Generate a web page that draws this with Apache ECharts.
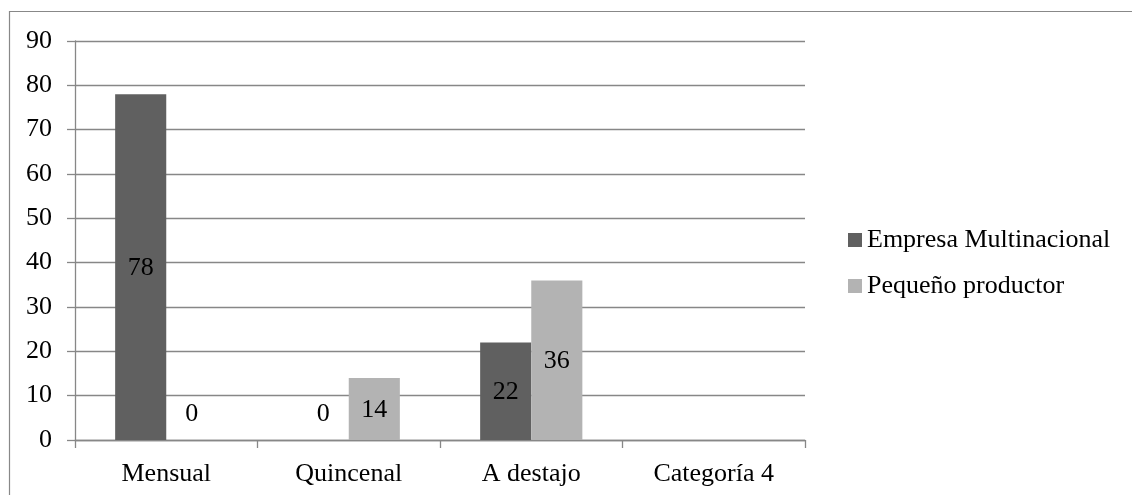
<!DOCTYPE html>
<html>
<head>
<meta charset="utf-8">
<script src="https://cdn.jsdelivr.net/npm/echarts@6/dist/echarts.min.js"></script>
<style>
  html, body { margin: 0; padding: 0; background: #fff; }
  #chart { width: 1132px; height: 495px; }
</style>
</head>
<body>
<div id="chart"></div>
<script>
// Payment frequency by producer type
const categories = ['Mensual', 'Quincenal', 'A destajo', 'Categoría 4'];
const seriesNames = ['Empresa Multinacional', 'Pequeño productor'];
const multinacional = [78, 0, 22, null];
const pequeno = [0, 14, 36, null];
const yTicks = { min: 0, max: 90, interval: 10 };

const FONT = '"Liberation Serif", "Times New Roman", serif';
const FS = 26;
const GRID_COLOR = '#878787';
const colors = ['#606060', '#b3b3b3'];

// zero-height bars carry their label a little above the baseline
function toItems(values) {
  return values.map(v => {
    if (v === 0) {
      return { value: v, label: { offset: [0, -26] } };
    }
    return v;
  });
}

function barSeries(name, values, color) {
  return {
    name: name,
    type: 'bar',
    data: toItems(values),
    barGap: '0%',
    barCategoryGap: '44%',
    itemStyle: { color: color },
    label: {
      show: true,
      position: 'inside',
      offset: [0, 1],
      color: '#000',
      fontFamily: FONT,
      fontSize: FS,
      formatter: p => (p.value == null ? '' : String(p.value))
    }
  };
}

const chart = echarts.init(document.getElementById('chart'), null, { renderer: 'canvas' });
chart.setOption({
  animation: false,
  backgroundColor: '#fff',
  textStyle: { fontFamily: FONT },
  graphic: [{
    type: 'rect',
    shape: { x: 9.5, y: 11.5, width: 1400, height: 800 },
    style: { fill: 'none', stroke: '#888', lineWidth: 1.2 },
    silent: true,
    z: -1
  }],
  grid: { left: 75, right: 327, top: 41, bottom: 55, containLabel: false },
  legend: {
    orient: 'vertical',
    left: 843,
    top: 220,
    itemWidth: 14,
    itemHeight: 14,
    itemGap: 16,
    icon: 'rect',
    data: seriesNames,
    textStyle: { fontFamily: FONT, fontSize: FS, color: '#000', lineHeight: 30 }
  },
  xAxis: {
    type: 'category',
    data: categories,
    axisLine: { lineStyle: { color: GRID_COLOR, width: 1.3 } },
    axisTick: { show: true, length: 8, alignWithLabel: false, lineStyle: { color: GRID_COLOR, width: 1.3 } },
    axisLabel: { color: '#000', fontFamily: FONT, fontSize: FS, margin: 21 },
    splitLine: { show: false }
  },
  yAxis: {
    type: 'value',
    min: yTicks.min,
    max: yTicks.max,
    interval: yTicks.interval,
    axisLine: { show: true, lineStyle: { color: GRID_COLOR, width: 1.3 } },
    axisTick: { show: true, length: 8, lineStyle: { color: GRID_COLOR, width: 1.3 } },
    axisLabel: { color: '#000', fontFamily: FONT, fontSize: FS, margin: 23 },
    splitLine: { show: true, lineStyle: { color: GRID_COLOR, width: 1.3 } }
  },
  series: [
    barSeries(seriesNames[0], multinacional, colors[0]),
    barSeries(seriesNames[1], pequeno, colors[1])
  ]
});
</script>
</body>
</html>
